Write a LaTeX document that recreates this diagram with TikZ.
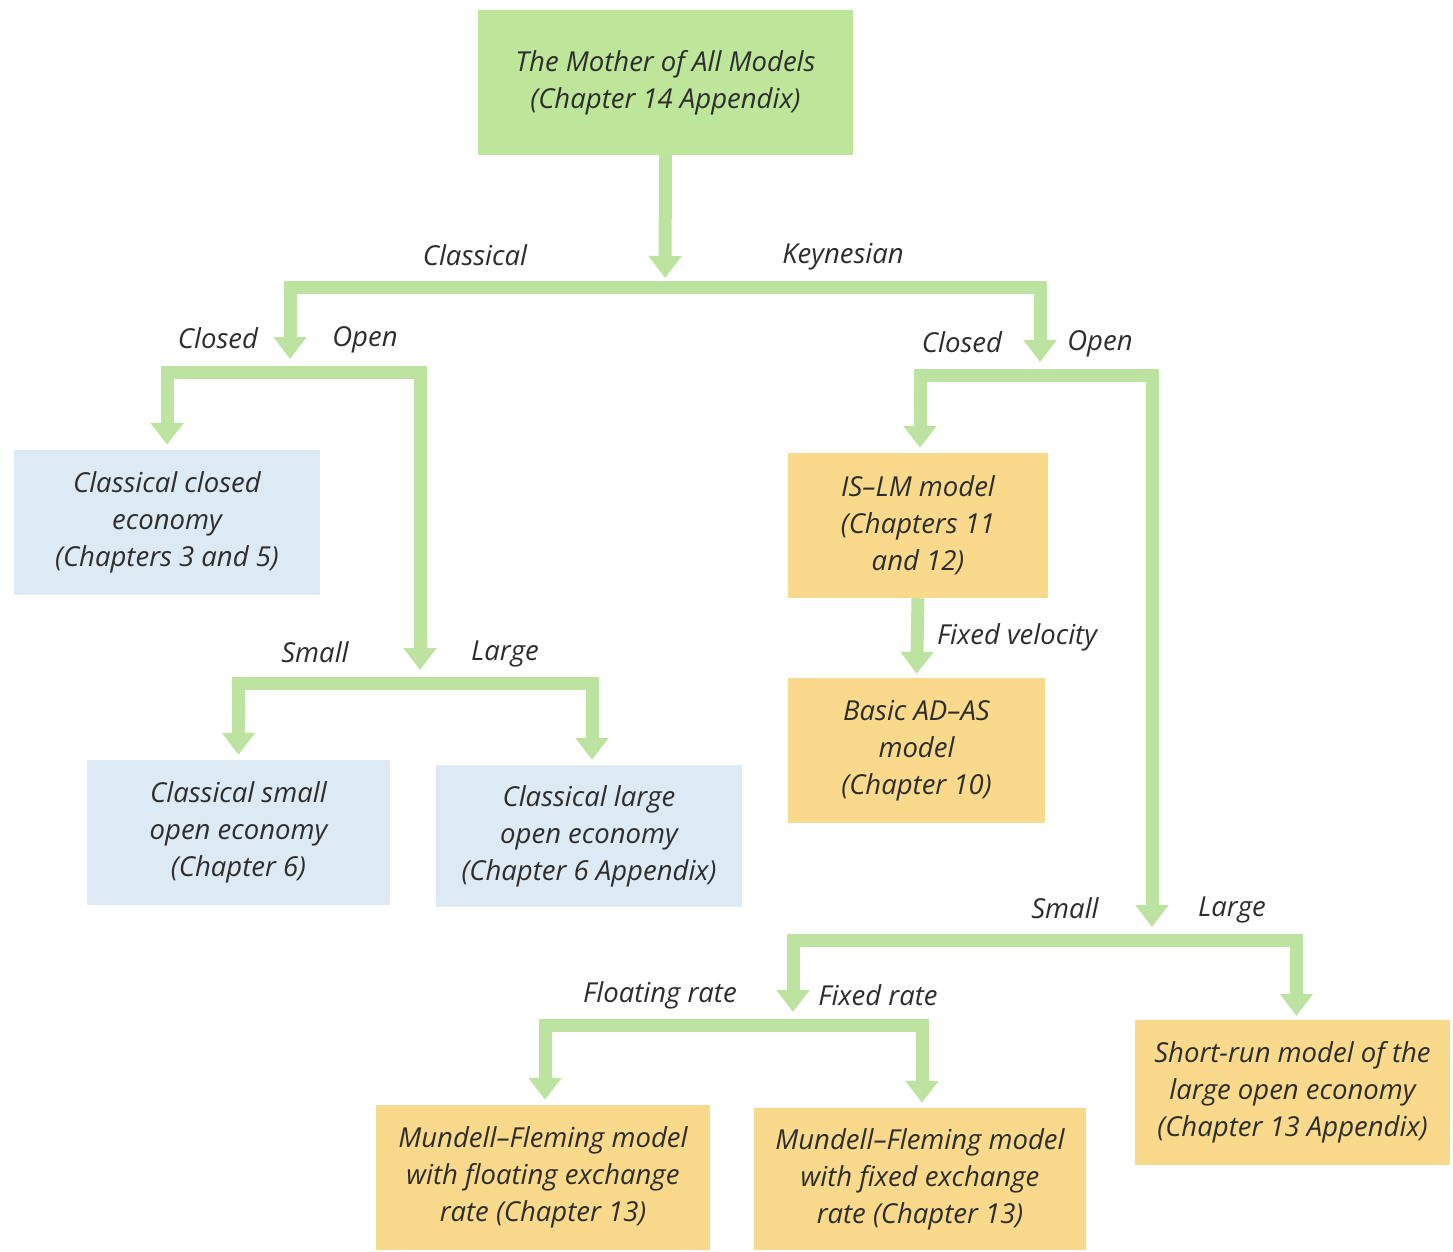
\documentclass[tikz,border=0pt]{standalone}
\usepackage{fontspec}
\setmainfont{Open Sans}
\usetikzlibrary{arrows.meta}
\definecolor{boxgreen}{RGB}{190,230,155}
\definecolor{linegreen}{RGB}{188,228,160}
\definecolor{boxblue}{RGB}{221,234,243}
\definecolor{boxorange}{RGB}{249,218,140}
\definecolor{txt}{RGB}{45,45,45}
\tikzset{
  box/.style={rectangle, inner sep=0pt, align=center, text=txt,
    font=\fontsize{27.5}{37}\selectfont\itshape},
  gbox/.style={box, fill=boxgreen},
  bbox/.style={box, fill=boxblue},
  obox/.style={box, fill=boxorange},
  lbl/.style={text=txt, font=\fontsize{27.5}{32}\selectfont\itshape, inner sep=0pt},
  flow/.style={draw=linegreen, line width=13pt, line join=miter,
    -{Triangle[width=32pt,length=22pt]}},
}
\begin{document}
\begin{tikzpicture}[x=1pt,y=-1pt]
\useasboundingbox[fill=white] (0,0) rectangle (1453,1252);

% boxes
\node[gbox, minimum width=375pt, minimum height=145pt] (top) at (665.5,82.5)
  {The Mother of All Models\\(Chapter 14 Appendix)};
\node[bbox, minimum width=306pt, minimum height=145pt] (ccl) at (167,522.5)
  {Classical closed\\economy\\(Chapters 3 and 5)};
\node[bbox, minimum width=303pt, minimum height=145pt] (csm) at (238.5,832.5)
  {Classical small\\open economy\\(Chapter 6)};
\node[bbox, minimum width=306pt, minimum height=142pt] (clg) at (589,836)
  {Classical large\\open economy\\(Chapter 6 Appendix)};
\node[obox, minimum width=260pt, minimum height=145pt] (islm) at (918,525.5)
  {IS--LM model\\(Chapters 11\\and 12)};
\node[obox, minimum width=257pt, minimum height=145pt] (adas) at (916.5,750.5)
  {Basic AD--AS\\model\\(Chapter 10)};
\node[obox, minimum width=315pt, minimum height=145pt] (srm) at (1292.5,1092.5)
  {Short-run model of the\\large open economy\\(Chapter 13 Appendix)};
\node[obox, minimum width=334pt, minimum height=145pt] (mffl) at (543,1177.5)
  {Mundell--Fleming model\\with floating exchange\\rate (Chapter 13)};
\node[obox, minimum width=332pt, minimum height=142pt] (mffx) at (920,1179)
  {Mundell--Fleming model\\with fixed exchange\\rate (Chapter 13)};

% junction coordinates
\coordinate (b1) at (665,287);
\coordinate (b1t) at (665,278);
\coordinate (b2) at (290,372);
\coordinate (b2t) at (290,359);
\coordinate (b3) at (420,683);
\coordinate (b3t) at (420,670);
\coordinate (b4) at (1040,375);
\coordinate (b4t) at (1040,362);
\coordinate (b5) at (1152,940);
\coordinate (b5t) at (1152,927);
\coordinate (b6) at (793,1025);
\coordinate (b6t) at (793,1012);

% connectors
\draw[flow] (top.south) -- (b1t);
\draw[flow] (b1) -| (b2t);
\draw[flow] (b1) -| (b4t);

\draw[flow, shorten >=5pt] (b2) -| (ccl.north);
\draw[flow] (b2) -| (b3t);

\draw[flow, shorten >=5pt] (b3) -| (csm.north);
\draw[flow, shorten >=5pt] (b3) -| ([xshift=3pt]clg.north);

\draw[flow, shorten >=5pt] (b4) -| ([xshift=2pt]islm.north);
\draw[flow] (b4) -| (b5t);

\draw[flow, shorten >=4pt] (islm.south) -- (adas.north);

\draw[flow, shorten >=4pt] (b5) -| ([xshift=4pt]srm.north);
\draw[flow] (b5) -| (b6t);

\draw[flow, shorten >=5pt] (b6) -| ([xshift=2pt]mffl.north);
\draw[flow, shorten >=5pt] (b6) -| ([xshift=2pt]mffx.north);

% labels
\node[lbl] (lclass) at (475,255) {Classical};
\node[lbl] (lkeyn) at (843,257) {Keynesian};
\node[lbl] (lclo1) at (218,338) {Closed};
\node[lbl] (lopn1) at (365,340) {Open};
\node[lbl] (lsm1) at (315,652) {Small};
\node[lbl] (llg1) at (505,654) {Large};
\node[lbl] (lclo2) at (962,342) {Closed};
\node[lbl] (lopn2) at (1100,344) {Open};
\node[lbl] (lfv) at (1017,637) {Fixed velocity};
\node[lbl] (lsm2) at (1065,908) {Small};
\node[lbl] (llg2) at (1232,910) {Large};
\node[lbl] (lflt) at (660,995) {Floating rate};
\node[lbl] (lfix) at (878,995) {Fixed rate};
\end{tikzpicture}
\end{document}
